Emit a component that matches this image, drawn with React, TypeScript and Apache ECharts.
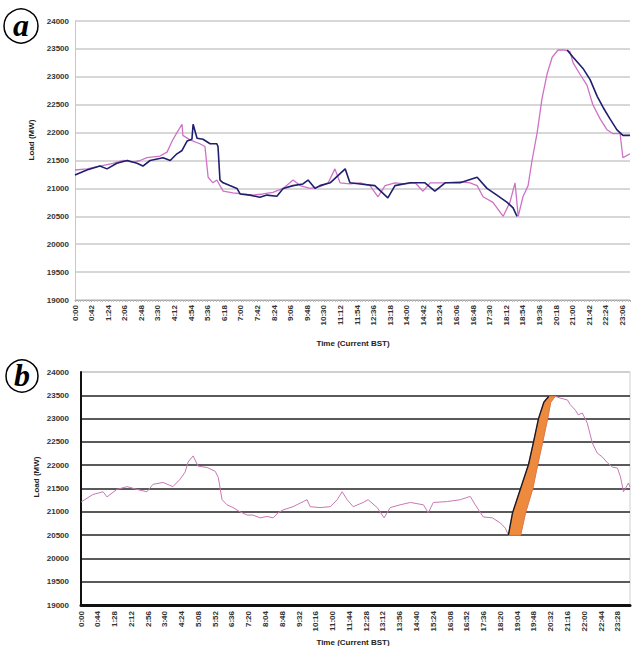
import React, { useEffect, useRef } from "react";
import * as echarts from "echarts";

// ---------- data (times as H:MM, values in MW) ----------
const yTicksMin = 19000;
const yTicksMax = 24000;
const yTickStep = 500;

const pinkATimes = ["0:00","0:30","1:03","1:36","2:02","2:27","2:45","3:02","3:35","3:53","4:06","4:18","4:31","4:33","4:51","5:16","5:29","5:37","5:49","5:59","6:15","6:40","7:05","7:31","7:56","8:21","8:47","9:12","9:30","9:55","10:20","10:41","10:58","11:11","11:36","12:02","12:27","12:47","13:05","13:30","13:55","14:21","14:41","14:59","15:37","16:15","16:40","16:58","17:13","17:38","18:04","18:21","18:34","18:42","18:54","19:07","19:17","19:30","19:42","19:55","20:08","20:23","20:41","20:53","21:01","21:18","21:36","21:51","22:09","22:27","22:42","23:00","23:07","23:20","23:25"];
const pinkAValues = [21330,21350,21400,21450,21500,21470,21500,21550,21580,21650,21850,22000,22150,21950,21870,21800,21750,21200,21100,21150,20950,20920,20900,20880,20900,20930,21000,21150,21050,21000,21030,21100,21350,21100,21080,21100,21050,20850,21050,21100,21080,21100,20950,21100,21100,21120,21100,21050,20850,20750,20500,20750,21100,20500,20850,21050,21500,22000,22600,23050,23350,23480,23480,23450,23250,23050,22850,22500,22250,22050,21980,21980,21550,21600,21620];

const navyATimes = ["0:00","0:30","1:03","1:21","1:46","2:12","2:37","2:52","3:10","3:43","4:01","4:18","4:31","4:44","4:56","4:59","5:09","5:24","5:42","5:59","6:02","6:07","6:15","6:32","6:50","6:58","7:23","7:48","8:06","8:31","8:47","9:12","9:37","9:50","10:08","10:20","10:46","11:24","11:36","12:02","12:39","13:12","13:30","14:08","14:46","15:11","15:37","16:15","16:58","17:23","17:48","18:14","18:29","18:39","19:40","20:46","21:01","21:26","21:44","22:02","22:17","22:34","22:52","23:07","23:25"];
const navyAValues = [21240,21330,21400,21350,21450,21500,21450,21400,21500,21550,21500,21620,21680,21850,21880,22150,21900,21880,21800,21800,21750,21150,21100,21050,21000,20900,20880,20840,20880,20860,21000,21050,21080,21150,21000,21050,21100,21350,21100,21080,21050,20830,21050,21100,21100,20950,21100,21100,21200,21000,20880,20750,20650,20500,null,23480,23350,23150,22950,22650,22450,22250,22050,21950,21950];

const pinkBTimes = ["0:00","0:31","0:58","1:08","1:34","2:01","2:27","2:53","3:09","3:35","4:01","4:20","4:33","4:41","4:54","5:07","5:31","5:52","6:00","6:10","6:23","6:39","6:57","7:16","7:31","7:50","8:08","8:24","8:37","8:50","9:16","9:43","9:53","10:01","10:27","10:54","11:12","11:25","11:38","11:54","12:20","12:33","12:57","13:15","13:31","13:57","14:24","14:58","15:11","15:24","16:01","16:35","17:01","17:14","17:35","17:59","18:20","18:33","18:41","19:13","19:26","19:45","19:58","20:11","20:24","20:32","20:44","20:57","21:16","21:23","21:37","21:44","21:55","22:08","22:21","22:34","22:47","23:01","23:14","23:27","23:35","23:43","23:56","24:00"];
const pinkBValues = [21210,21370,21430,21320,21480,21540,21480,21430,21590,21630,21540,21700,21850,22070,22200,21980,21950,21870,21740,21260,21150,21090,21000,20930,20930,20870,20900,20870,20980,21040,21110,21220,21260,21110,21090,21110,21260,21430,21260,21110,21200,21260,21090,20870,21090,21150,21200,21150,20980,21200,21220,21260,21330,21150,20890,20870,20760,20650,20500,20500,20980,21500,22020,22500,23000,23350,23480,23440,23400,23300,23180,23080,23120,22900,22480,22260,22180,22050,21960,21940,21750,21430,21620,21530];

// edges of the shaded (orange) band on the evening ramp, chart b
const bandLeftTimes = ["18:41","18:52","19:13","19:34","19:47","20:00","20:14","20:27"];
const bandLeftValues = [20500,20980,21500,22020,22500,23000,23350,23480];
const bandRightTimes = ["19:13","19:26","19:45","19:58","20:11","20:24","20:32","20:44"];
const bandRightValues = [20500,20980,21500,22020,22500,23000,23350,23480];

const axisTitleX = "Time (Current BST)";
const axisTitleY = "Load (MW)";

// ---------- helpers ----------
const toMin = (s: string) => {
  const [h, m] = s.split(":").map(Number);
  return h * 60 + m;
};
const fmt = (v: number) => `${Math.floor(v / 60)}:${String(Math.round(v % 60)).padStart(2, "0")}`;
const pairs = (t: string[], v: (number | null)[]) => t.map((s, i) => [toMin(s), v[i]]);

const FONT = "Liberation Sans";

export default function App() {
  const ref = useRef<HTMLDivElement>(null);
  useEffect(() => {
    if (!ref.current) return;
    const chart = echarts.init(ref.current, null, { renderer: "svg" });
    const bandLeft = pairs(bandLeftTimes, bandLeftValues);
    const bandRight = pairs(bandRightTimes, bandRightValues);
    const labelStyle = { fontFamily: FONT, fontSize: 8, fontWeight: "bold" as const, color: "#333" };
    const bSplitColors = Array.from({ length: 11 }, (_, i) => (i === 10 ? "#cfcfcf" : "#5a5a5a"));

    chart.setOption({
      animation: false,
      backgroundColor: "#ffffff",
      grid: [
        { left: 75, top: 21, width: 555, height: 279, show: false },
        { left: 81, top: 372, width: 549, height: 233, show: true, borderColor: "#cfcfcf", borderWidth: 1 },
      ],
      xAxis: [
        {
          type: "value", gridIndex: 0, min: 0, max: 1405, interval: 42,
          axisLine: { show: true, lineStyle: { color: "#a0a0a0", width: 1 } },
          axisTick: { show: true, length: 2, lineStyle: { color: "#b0b0b0" } },
          minorTick: { show: true, splitNumber: 6, length: 2, lineStyle: { color: "#c0c0c0" } },
          splitLine: { show: false },
          axisLabel: { ...labelStyle, rotate: 90, margin: 5, formatter: fmt, showMaxLabel: false },
        },
        {
          type: "value", gridIndex: 1, min: 0, max: 1440, interval: 44,
          axisLine: { show: true, lineStyle: { color: "#111", width: 3 } },
          axisTick: { show: false },
          splitLine: { show: false },
          axisLabel: { ...labelStyle, rotate: 90, margin: 6, formatter: fmt, showMaxLabel: false },
        },
      ],
      yAxis: [
        {
          type: "value", gridIndex: 0, min: yTicksMin, max: yTicksMax, interval: yTickStep,
          axisLine: { show: true, lineStyle: { color: "#c8c8c8", width: 1 } },
          axisTick: { show: false },
          splitLine: { show: true, lineStyle: { color: "#cacaca", width: 1.5 } },
          axisLabel: { ...labelStyle, margin: 6, formatter: (v: number) => String(v) },
        },
        {
          type: "value", gridIndex: 1, min: yTicksMin, max: yTicksMax, interval: yTickStep,
          axisLine: { show: true, lineStyle: { color: "#111", width: 2 } },
          axisTick: { show: false },
          splitLine: { show: true, lineStyle: { color: bSplitColors, width: 2.2 } },
          axisLabel: { ...labelStyle, margin: 12, formatter: (v: number) => String(v) },
        },
      ],
      series: [
        {
          type: "line", xAxisIndex: 0, yAxisIndex: 0, name: "actual",
          data: pairs(pinkATimes, pinkAValues), showSymbol: false,
          lineStyle: { color: "#cf72c6", width: 1.3 }, z: 3,
        },
        {
          type: "line", xAxisIndex: 0, yAxisIndex: 0, name: "forecast",
          data: pairs(navyATimes, navyAValues), showSymbol: false, connectNulls: false,
          lineStyle: { color: "#1f1f6e", width: 1.6 }, z: 4,
        },
        {
          type: "line", xAxisIndex: 1, yAxisIndex: 1, name: "actual b",
          data: pairs(pinkBTimes, pinkBValues), showSymbol: false,
          lineStyle: { color: "#c878b4", width: 1 }, z: 3,
        },
        {
          type: "custom", xAxisIndex: 1, yAxisIndex: 1, name: "band",
          data: [bandLeft[0]], z: 5,
          renderItem: (_p: any, api: any) => {
            const pts = [
              ...bandLeft.map((p) => api.coord(p)),
              ...bandRight.slice().reverse().map((p) => api.coord(p)),
            ];
            return { type: "polygon", shape: { points: pts }, style: { fill: "#ee8a3e", stroke: "#e07c32", lineWidth: 0.8 } };
          },
        },
        {
          type: "line", xAxisIndex: 1, yAxisIndex: 1, name: "edge",
          data: bandLeft, showSymbol: false,
          lineStyle: { color: "#1a1a2a", width: 1.4 }, z: 6,
        },
      ],
      graphic: [
        { type: "circle", shape: { cx: 21, cy: 26, r: 17 }, style: { fill: "#fff", stroke: "#000", lineWidth: 1.5 } },
        { type: "text", x: 21, y: 25, style: { text: "a", fontFamily: "Liberation Serif", fontStyle: "italic", fontWeight: "bold", fontSize: 32, fill: "#000", align: "center", verticalAlign: "middle" } },
        { type: "circle", shape: { cx: 22, cy: 376, r: 16 }, style: { fill: "#fff", stroke: "#000", lineWidth: 1.5 } },
        { type: "text", x: 22, y: 375, style: { text: "b", fontFamily: "Liberation Serif", fontStyle: "italic", fontWeight: "bold", fontSize: 32, fill: "#000", align: "center", verticalAlign: "middle" } },
        { type: "text", x: 31, y: 140, rotation: Math.PI / 2, style: { text: axisTitleY, fontFamily: FONT, fontWeight: "bold", fontSize: 8, fill: "#222", align: "center", verticalAlign: "middle" } },
        { type: "text", x: 36, y: 477, rotation: Math.PI / 2, style: { text: axisTitleY, fontFamily: FONT, fontWeight: "bold", fontSize: 8, fill: "#222", align: "center", verticalAlign: "middle" } },
        { type: "text", x: 353, y: 343, style: { text: axisTitleX, fontFamily: FONT, fontWeight: "bold", fontSize: 8, fill: "#222", align: "center", verticalAlign: "middle" } },
        { type: "text", x: 353, y: 642, style: { text: axisTitleX, fontFamily: FONT, fontWeight: "bold", fontSize: 8, fill: "#222", align: "center", verticalAlign: "middle" } },
      ],
    });
    return () => chart.dispose();
  }, []);

  return (
    <div
      ref={ref}
      style={{ position: "absolute", left: 0, top: 0, width: 632, height: 646, background: "#fff" }}
    />
  );
}
